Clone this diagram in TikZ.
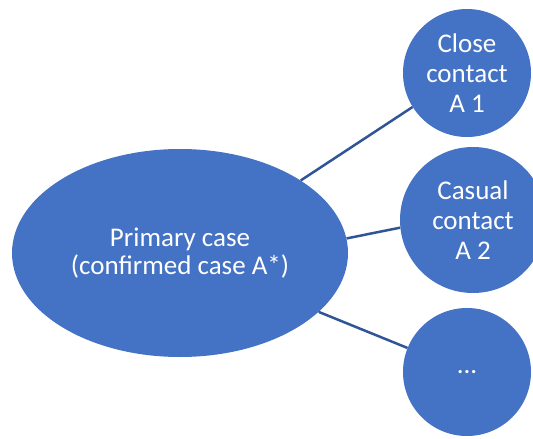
\documentclass[tikz,border=0pt]{standalone}
\usepackage{fontspec}
\setmainfont{Carlito}
\usetikzlibrary{shapes.geometric}
\definecolor{casefill}{HTML}{4472C4}
\definecolor{caseline}{HTML}{2F5597}

\begin{document}
\begin{tikzpicture}[x=1pt, y=-1pt,
    casenode/.style={fill=casefill, draw=none, inner sep=0pt, text=white, align=center,
      font=\fontsize{27}{30}\selectfont},
    link/.style={caseline, line width=2.5pt}]
            % page frame
            \useasboundingbox (0,0) rectangle (533,439);
            \clip (0,0) rectangle (533,439);

            % Define positions of the cases
            \node[casenode, ellipse, minimum width=336pt, minimum height=208pt,
              font=\fontsize{27}{28.5}\selectfont] (primary) at (180, 253) {Primary case\\(confirmed case A*)};
            \node[casenode, circle, minimum size=128pt] (close) at (467, 73) {Close\\contact\\A 1};
            \node[casenode, circle, minimum size=146pt] (casual) at (473, 220) {Casual\\contact\\A 2};
            \node[casenode, circle, minimum size=128pt] (more) at (467, 372) {...};

            % links from the primary case to the contacts
            \draw[link] (primary.31.7) -- (close.212.7);
            \draw[link] (primary.5.8) -- (casual.186.8);
            \draw[link] (primary.-23.2) -- (more.158.2);
        \end{tikzpicture}
\end{document}
